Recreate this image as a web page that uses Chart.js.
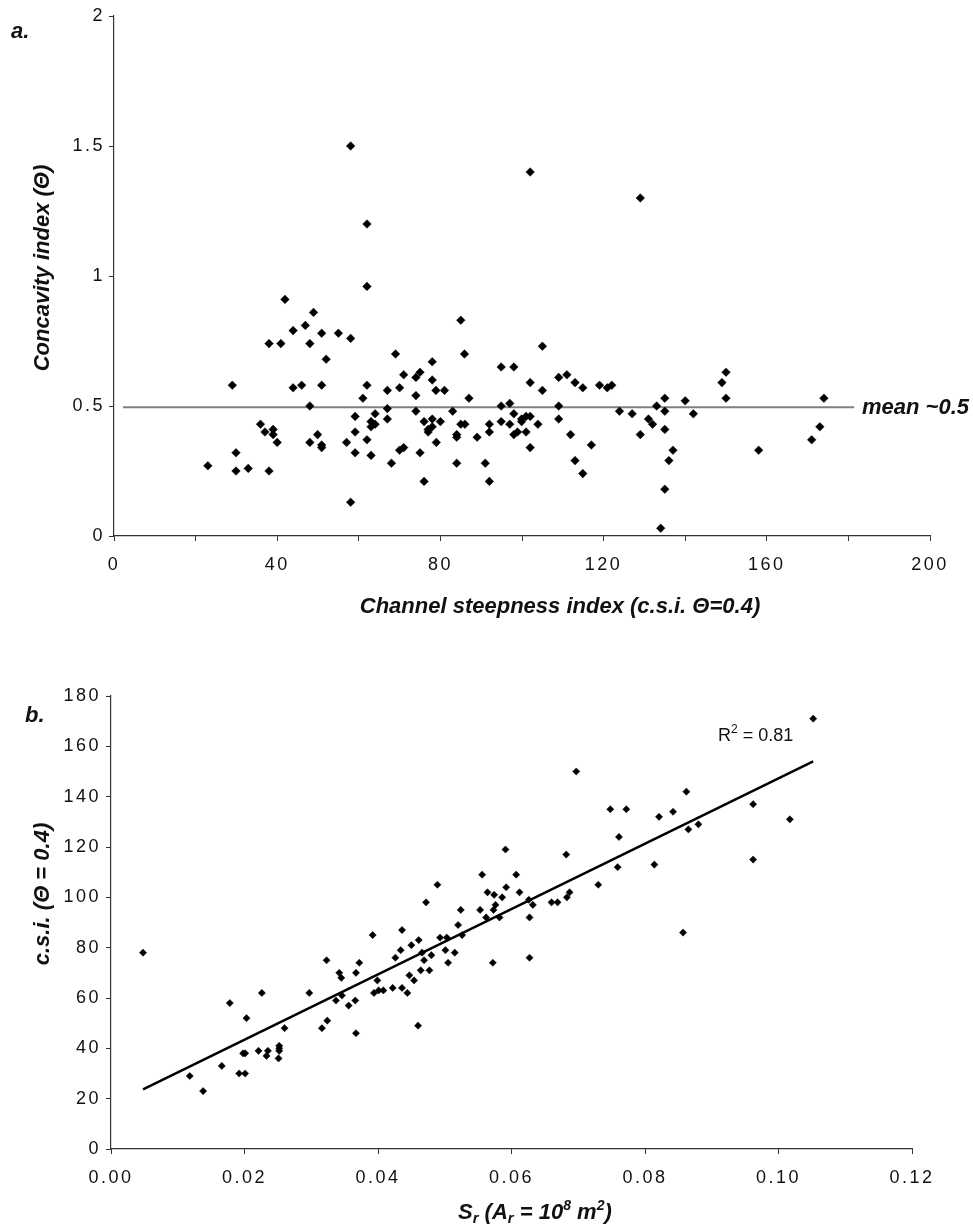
<!DOCTYPE html>
<html>
<head>
<meta charset="utf-8">
<script src="https://cdn.jsdelivr.net/npm/chart.js@4.4.1/dist/chart.umd.min.js"></script>
<style>
  body { margin: 0; background: #fff; }
  canvas { position: absolute; left: 0; }
</style>
</head>
<body>
<canvas id="chartA" width="973" height="620" style="top:0"></canvas>
<canvas id="chartB" width="973" height="610" style="top:620px"></canvas>
<script>
// panel a: channel steepness index vs concavity index
const csiA = [58, 62, 62, 102, 129,
  41.9, 48.9, 46.9, 43.9, 50.9, 38, 40.9, 48, 52, 29, 43.9, 46, 50.9, 48, 35.9, 37, 39, 39, 40, 48, 49.9, 50.9, 50.9, 29.9, 23, 29.9, 32.9, 38,
  55, 58, 85, 69, 85.9, 105, 78, 75, 74, 71, 78, 94.9, 98, 102, 105, 109, 111, 113, 114.9, 119, 120.9, 122, 62, 61, 67, 70, 74, 78.9, 81, 87,
  67, 59.1, 64, 63, 64, 63, 67, 74, 76, 78, 80, 78, 77, 77, 83, 85, 86, 84, 84, 89, 92, 92, 94.9, 94.9, 97, 97, 98, 98, 98.9, 99.9, 99.9,
  101, 102, 101, 102, 103.9, 109, 109, 111.9, 113, 114.9, 117, 123.9, 57, 59.1, 59.1, 62, 63, 58, 68, 70, 71, 75, 76, 79, 84, 91, 92,
  127, 129, 131, 132, 133, 135, 135, 135, 137, 136, 135, 134, 140, 142, 149, 150, 150, 158, 171, 173, 174];
const concavity = [1.50, 1.20, 0.96, 1.40, 1.30,
  0.91, 0.86, 0.81, 0.79, 0.78, 0.74, 0.74, 0.74, 0.68, 0.58, 0.57, 0.58, 0.58, 0.50, 0.43, 0.40, 0.41, 0.39, 0.36, 0.36, 0.39, 0.35, 0.34, 0.32, 0.27, 0.25, 0.26, 0.25,
  0.78, 0.76, 0.83, 0.70, 0.70, 0.73, 0.67, 0.63, 0.61, 0.62, 0.60, 0.65, 0.65, 0.59, 0.56, 0.61, 0.62, 0.59, 0.57, 0.58, 0.57, 0.58, 0.58, 0.53, 0.56, 0.57, 0.54, 0.56, 0.56, 0.53,
  0.49, 0.46, 0.47, 0.44, 0.43, 0.42, 0.45, 0.48, 0.44, 0.45, 0.44, 0.42, 0.41, 0.40, 0.48, 0.43, 0.43, 0.39, 0.38, 0.38, 0.43, 0.40, 0.50, 0.44, 0.51, 0.43, 0.47, 0.39, 0.40, 0.44, 0.45,
  0.46, 0.46, 0.40, 0.34, 0.43, 0.50, 0.45, 0.39, 0.29, 0.24, 0.35, 0.48, 0.36, 0.40, 0.32, 0.37, 0.31, 0.13, 0.28, 0.33, 0.34, 0.32, 0.21, 0.36, 0.28, 0.28, 0.21,
  0.47, 0.39, 0.45, 0.43, 0.50, 0.53, 0.48, 0.41, 0.33, 0.29, 0.18, 0.03, 0.52, 0.47, 0.59, 0.63, 0.53, 0.33, 0.37, 0.42, 0.53];
const meanX = [2.2, 181.4];
const meanY = [0.495, 0.495];

// panel b: S_r vs c.s.i.
const srB = [0.0048, 0.0118, 0.0138, 0.0166, 0.0178, 0.0226, 0.0203, 0.0192, 0.0201, 0.0201, 0.0198, 0.0221, 0.0235, 0.0233, 0.0252, 0.0252, 0.0252, 0.0251, 0.026, 0.0297, 0.0323, 0.0316, 0.0324,
  0.0337, 0.0346, 0.0342, 0.0345, 0.0356, 0.0366, 0.0367, 0.0372, 0.0367, 0.0392, 0.0399, 0.0394, 0.0401, 0.0408, 0.0422, 0.0426, 0.0434, 0.0436, 0.0436, 0.0444, 0.0447, 0.0454,
  0.045, 0.0461, 0.0464, 0.046, 0.0466, 0.0469, 0.048, 0.0472, 0.0477, 0.0489, 0.0493, 0.0503, 0.0501, 0.0505, 0.0515, 0.052, 0.0524, 0.0526, 0.0553, 0.0556, 0.0562, 0.0564,
  0.0573, 0.0574, 0.0576, 0.0572, 0.0582, 0.0586, 0.0592, 0.0607, 0.0612, 0.0626, 0.0632, 0.0627, 0.0627, 0.066, 0.0669, 0.0683, 0.0687, 0.073,
  0.0697, 0.0748, 0.0772, 0.0761, 0.0759, 0.0682, 0.0591,
  0.1052, 0.0862, 0.0821, 0.0842, 0.0865, 0.088, 0.0962, 0.1017, 0.0962, 0.0814, 0.0857];
const csiB = [78, 29, 23, 33, 58, 62, 52, 30, 30, 38, 38, 39, 39, 37, 41, 40, 39, 36, 48, 62, 75, 48, 51,
  59, 61, 70, 68, 57, 59, 70, 74, 46, 85, 67, 62, 63, 63, 64, 76, 79, 87, 64, 62, 69, 67,
  81, 83, 71, 49, 78, 75, 77, 98, 71, 105, 84, 84, 79, 74, 78, 89, 95, 85, 95, 109, 92, 102,
  95, 101, 97, 74, 92, 100, 104, 109, 102, 99, 97, 92, 76, 98, 98, 100, 102, 105,
  150, 135, 135, 124, 112, 117, 119,
  171, 142, 132, 134, 127, 129, 137, 131, 115, 113, 86];
const fitX = [0.0048, 0.1052];
const fitY = [23.7, 154.0];

const AXIS = '#333';
const FONT = 'Liberation Sans, Arial, Helvetica, sans-serif';
const tickFont = { family: FONT, size: 18 };

const pts = (xs, ys) => xs.map((x, i) => ({ x, y: ys[i] }));

function axisOpts(min, max, step, fmt, pad, extra) {
  return Object.assign({
    type: 'linear', min, max,
    ticks: { stepSize: step, callback: fmt, font: tickFont, color: '#111', autoSkip: false, maxRotation: 0, padding: pad },
    grid: { drawOnChartArea: false, tickLength: 5, color: AXIS, lineWidth: 1 },
    border: { color: AXIS, width: 1.2 }
  }, extra);
}

function rich(ctx, parts, x, y) {
  let cx = x;
  parts.forEach(p => {
    ctx.font = (p.w || 'italic bold') + ' ' + p.s + 'px ' + FONT;
    ctx.fillText(p.t, cx, y + (p.dy || 0));
    cx += ctx.measureText(p.t).width;
  });
}

const spacing = {
  id: 'spacing',
  beforeDraw(chart) { chart.ctx.letterSpacing = '2.5px'; }
};

function labels(draw) {
  return {
    id: 'labels',
    afterDraw(chart) {
      const ctx = chart.ctx;
      ctx.save();
      ctx.letterSpacing = '0px';
      ctx.fillStyle = '#111';
      ctx.textBaseline = 'middle';
      draw(ctx);
      ctx.restore();
    }
  };
}

const bi = s => 'italic bold ' + s + 'px ' + FONT;

new Chart(document.getElementById('chartA'), {
  type: 'scatter',
  data: {
    datasets: [
      { data: pts(csiA, concavity), pointStyle: 'rectRot', pointRadius: 4.3, backgroundColor: '#000', borderColor: '#000', borderWidth: 0.5 },
      { type: 'line', data: pts(meanX, meanY), borderColor: '#808080', borderWidth: 2, pointRadius: 0, showLine: true }
    ]
  },
  options: {
    responsive: false, animation: false, devicePixelRatio: 1,
    layout: { padding: { left: 0, top: 16, right: 43, bottom: 0 } },
    plugins: { legend: { display: false }, tooltip: { enabled: false } },
    scales: {
      x: axisOpts(0, 200, 20, v => (v % 40 === 0 ? String(v) : ''), 13, { afterFit: s => { s.height = 84; } }),
      y: axisOpts(0, 2, 0.5, v => String(v), 4, { afterFit: s => { s.width = 114; } })
    }
  },
  plugins: [spacing, labels(ctx => {
    ctx.textAlign = 'left';
    ctx.font = bi(22);
    ctx.fillText('a.', 11, 32);
    ctx.fillText('mean ~0.5', 862, 408);
    ctx.textAlign = 'center';
    ctx.fillText('Channel steepness index (c.s.i. \u0398=0.4)', 560, 607);
    ctx.save();
    ctx.translate(43, 268);
    ctx.rotate(-Math.PI / 2);
    ctx.fillText('Concavity index (\u0398)', 0, 0);
    ctx.restore();
  })]
});

new Chart(document.getElementById('chartB'), {
  type: 'scatter',
  data: {
    datasets: [
      { data: pts(srB, csiB), pointStyle: 'rectRot', pointRadius: 3.6, backgroundColor: '#000', borderColor: '#000', borderWidth: 0.5 },
      { type: 'line', data: pts(fitX, fitY), borderColor: '#000', borderWidth: 2.5, pointRadius: 0, showLine: true }
    ]
  },
  options: {
    responsive: false, animation: false, devicePixelRatio: 1,
    layout: { padding: { left: 0, top: 76, right: 61, bottom: 0 } },
    plugins: { legend: { display: false }, tooltip: { enabled: false } },
    scales: {
      x: axisOpts(0, 0.12, 0.02, v => v.toFixed(2), 13, { afterFit: s => { s.height = 81; } }),
      y: axisOpts(0, 180, 20, v => String(v), 5, { afterFit: s => { s.width = 111; } })
    }
  },
  plugins: [spacing, labels(ctx => {
    ctx.textAlign = 'left';
    ctx.font = bi(22);
    ctx.fillText('b.', 25, 96);
    rich(ctx, [
      { t: 'R', s: 18, w: 'normal' }, { t: '2', s: 12, w: 'normal', dy: -6 }, { t: ' = 0.81', s: 18, w: 'normal' }
    ], 718, 116);
    rich(ctx, [
      { t: 'S', s: 22 }, { t: 'r', s: 15, dy: 6 }, { t: ' (A', s: 22 }, { t: 'r', s: 15, dy: 6 },
      { t: ' = 10', s: 22 }, { t: '8', s: 14, dy: -7 }, { t: ' m', s: 22 }, { t: '2', s: 14, dy: -7 }, { t: ')', s: 22 }
    ], 458, 593);
    ctx.textAlign = 'center';
    ctx.font = bi(22);
    ctx.save();
    ctx.translate(43, 274);
    ctx.rotate(-Math.PI / 2);
    ctx.fillText('c.s.i. (\u0398 = 0.4)', 0, 0);
    ctx.restore();
  })]
});
</script>
</body>
</html>
